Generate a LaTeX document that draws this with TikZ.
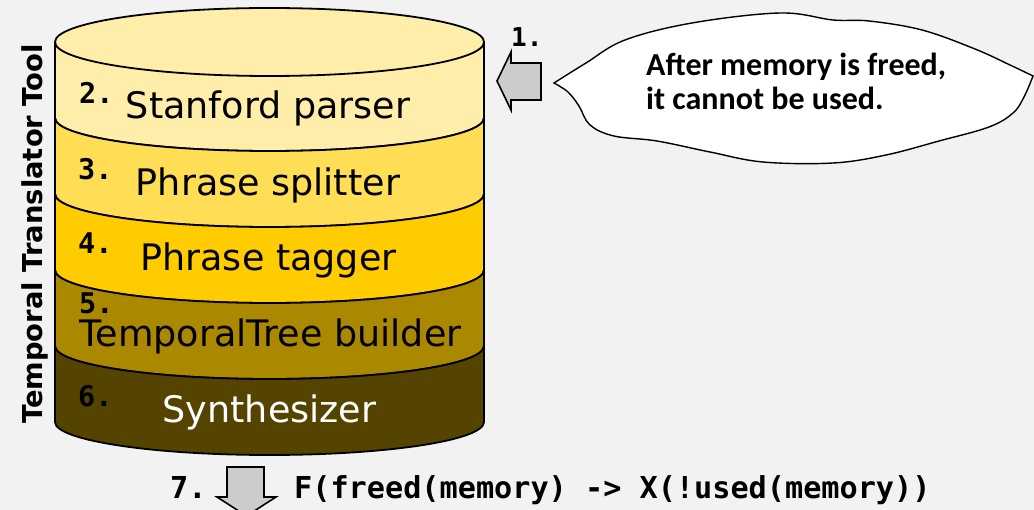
\documentclass[tikz,border=0pt]{standalone}
\usepackage{fontspec}
\setmainfont{DejaVu Sans}
\newfontfamily\monob{DejaVu Sans Mono}
\newfontfamily\calib{Carlito}
\definecolor{bgc}{HTML}{F2F2F2}
\definecolor{lay1}{HTML}{FFEEAA}
\definecolor{lay2}{HTML}{FFDD55}
\definecolor{lay3}{HTML}{FFCC00}
\definecolor{lay4}{HTML}{AA8800}
\definecolor{lay5}{HTML}{544400}
\definecolor{arrowgray}{HTML}{CCCCCC}
\tikzset{
  outl/.style={draw=black, line width=1.8pt, line join=round},
  layertext/.style={anchor=base, inner sep=0pt, font=\fontsize{36.5}{40}\selectfont},
  numtext/.style={anchor=base west, inner sep=0pt, font=\monob\bfseries\fontsize{28.5}{30}\selectfont},
  blockarrow/.style={fill=arrowgray, draw=black, line width=1.6pt, line join=miter},
}
\begin{document}
\begin{tikzpicture}[x=1pt, y=-1pt]
\fill[bgc] (0,0) rectangle (1034,510);
\useasboundingbox (0,0) rectangle (1034,510);
\clip (0,0) rectangle (1034,510);
% cylinder layers
\def\rx{214.5pt}
\def\ry{33pt}
\foreach \yt/\yb/\col in {42/118/lay1, 118/194/lay2, 194/270/lay3, 270/346/lay4, 346/422/lay5}{
  \filldraw[outl, fill=\col] (55,\yt) arc[start angle=180, end angle=360, x radius=\rx, y radius=\ry]
     -- (484,\yb) arc[start angle=360, end angle=180, x radius=\rx, y radius=\ry] -- cycle;
}
\filldraw[outl, fill=lay1] (269.5,42) ellipse [x radius=\rx, y radius=34pt];
% layer texts
\node[layertext] (l1) at (268,119) {Stanford parser};
\node[layertext] (l2) at (268,196) {Phrase splitter};
\node[layertext] (l3) at (268.5,271) {Phrase tagger};
\node[layertext] (l4) at (270.5,347) {TemporalTree builder};
\node[layertext, text=white] (l5) at (269.5,423) {Synthesizer};
% numbers
\node[numtext] (n2) at (79,104) {2.};
\node[numtext] (n3) at (78,180) {3.};
\node[numtext] (n4) at (78,254) {4.};
\node[numtext] (n5) at (79,314) {5.};
\node[numtext] (n6) at (78,407) {6.};
\node[numtext, font=\monob\bfseries\fontsize{26}{28}\selectfont] (n1) at (511,47) {1.};
% side title
\node[rotate=90, anchor=base, inner sep=0pt, font=\bfseries\fontsize{27.4}{29}\selectfont] (title) at (42,234) {Temporal Translator Tool};
% left block arrow
\filldraw[blockarrow] (541,63) -- (511,63) -- (511,52) -- (497,81) -- (511,110) -- (511,100) -- (541,100) -- cycle;
% cloud
\filldraw[fill=white, draw=black, line width=1.4pt]
  plot[smooth, tension=0.6] coordinates {(554,83) (586,63) (625,40) (692,23) (780,13) (833,20) (869,21) (922,30) (975,49) (1010,65) (1033,76)}
  -- plot[smooth, tension=0.6] coordinates {(1033,76) (1024,97) (1013,113) (989,127) (939,141) (886,155) (833,163) (763,162) (710,152) (657,141) (614,136) (590,125) (579,106) (568,92) (554,83)}
  -- cycle;
\node[anchor=base west, inner sep=0pt, font=\calib\bfseries\fontsize{32}{34}\selectfont] (c1) at (646,76) {After memory is freed,};
\node[anchor=base west, inner sep=0pt, font=\calib\bfseries\fontsize{32}{34}\selectfont] (c2) at (646,110) {it cannot be used.};
% bottom arrow and formula
\filldraw[blockarrow] (227,467) -- (264,467) -- (264,497) -- (276,497) -- (246.5,516) -- (217,497) -- (227,497) -- cycle;
\node[anchor=base west, inner sep=0pt, font=\monob\bfseries\fontsize{30.2}{32}\selectfont] (n7) at (170,498) {7.};
\node[anchor=base west, inner sep=0pt, font=\monob\bfseries\fontsize{30.2}{32}\selectfont] (formula) at (294,498) {F(freed(memory) -> X(!used(memory))};
\end{tikzpicture}
\end{document}
